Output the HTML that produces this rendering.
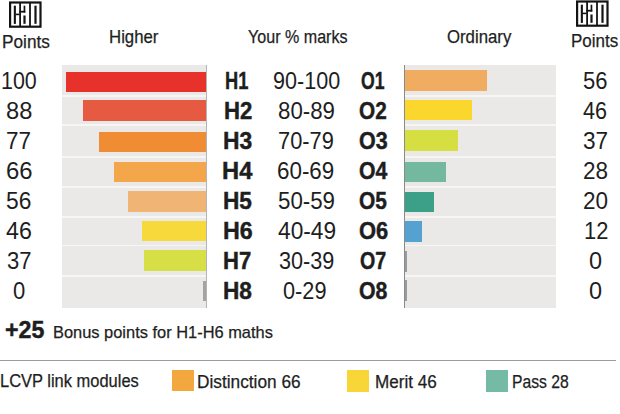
<!DOCTYPE html>
<html><head><meta charset="utf-8"><style>
html,body{margin:0;padding:0;background:#fff;width:620px;height:414px;overflow:hidden;position:relative}
.t{position:absolute;font-family:"Liberation Sans",sans-serif;line-height:1;white-space:nowrap;transform-origin:0 0;color:#1e1e1e;-webkit-text-stroke:0.25px #1e1e1e}
.r{position:absolute}
.logo{position:absolute}
</style></head><body>
<div class="r" style="left:62px;top:64.5px;width:145.00px;height:243.00px;background:#ebe9e8;"></div>
<div class="r" style="left:404px;top:64.5px;width:152.00px;height:243.00px;background:#ebe9e8;"></div>
<div class="r" style="left:62px;top:94.8px;width:145.00px;height:1.80px;background:#f7f6f5;"></div>
<div class="r" style="left:404px;top:94.8px;width:152.00px;height:1.80px;background:#f7f6f5;"></div>
<div class="r" style="left:62px;top:124.39999999999999px;width:145.00px;height:1.80px;background:#f7f6f5;"></div>
<div class="r" style="left:404px;top:124.39999999999999px;width:152.00px;height:1.80px;background:#f7f6f5;"></div>
<div class="r" style="left:62px;top:156.1px;width:145.00px;height:1.80px;background:#f7f6f5;"></div>
<div class="r" style="left:404px;top:156.1px;width:152.00px;height:1.80px;background:#f7f6f5;"></div>
<div class="r" style="left:62px;top:186.1px;width:145.00px;height:1.80px;background:#f7f6f5;"></div>
<div class="r" style="left:404px;top:186.1px;width:152.00px;height:1.80px;background:#f7f6f5;"></div>
<div class="r" style="left:62px;top:216.0px;width:145.00px;height:1.80px;background:#f7f6f5;"></div>
<div class="r" style="left:404px;top:216.0px;width:152.00px;height:1.80px;background:#f7f6f5;"></div>
<div class="r" style="left:62px;top:244.7px;width:145.00px;height:1.80px;background:#f7f6f5;"></div>
<div class="r" style="left:404px;top:244.7px;width:152.00px;height:1.80px;background:#f7f6f5;"></div>
<div class="r" style="left:62px;top:274.90000000000003px;width:145.00px;height:1.80px;background:#f7f6f5;"></div>
<div class="r" style="left:404px;top:274.90000000000003px;width:152.00px;height:1.80px;background:#f7f6f5;"></div>
<div class="r" style="left:65.6px;top:71.6px;width:140.90px;height:20.70px;background:#e6322a;"></div>
<div class="r" style="left:82.9px;top:100px;width:123.60px;height:21.30px;background:#e65a42;"></div>
<div class="r" style="left:98.7px;top:131.6px;width:107.80px;height:20.80px;background:#f08d34;"></div>
<div class="r" style="left:113.9px;top:161.6px;width:92.60px;height:20.80px;background:#f4a64a;"></div>
<div class="r" style="left:127.8px;top:191.1px;width:78.70px;height:20.80px;background:#f0b574;"></div>
<div class="r" style="left:141.7px;top:221.1px;width:64.80px;height:20.30px;background:#f8d93c;"></div>
<div class="r" style="left:143.5px;top:250.1px;width:63.00px;height:21.30px;background:#d6e046;"></div>
<div class="r" style="left:203.3px;top:280.8px;width:3.20px;height:20.10px;background:#a3a3a3;"></div>
<div class="r" style="left:205.8px;top:64.5px;width:1.00px;height:243.00px;background:#b4b4b4;"></div>
<div class="r" style="left:404.5px;top:70.2px;width:82.00px;height:21.20px;background:#f0ac60;"></div>
<div class="r" style="left:404.5px;top:99.7px;width:67.20px;height:20.70px;background:#fbd72e;"></div>
<div class="r" style="left:404.5px;top:130px;width:53.80px;height:21.40px;background:#d5df42;"></div>
<div class="r" style="left:404.5px;top:161.6px;width:41.00px;height:20.90px;background:#74b8a0;"></div>
<div class="r" style="left:404.5px;top:191.6px;width:29.30px;height:20.30px;background:#3ba087;"></div>
<div class="r" style="left:404.5px;top:221.1px;width:17.40px;height:20.50px;background:#55a2d0;"></div>
<div class="r" style="left:404.5px;top:250.6px;width:2.70px;height:21.00px;background:#9b9b9b;"></div>
<div class="r" style="left:404.5px;top:280.3px;width:2.70px;height:20.70px;background:#9b9b9b;"></div>
<div class="r" style="left:403.6px;top:64.5px;width:1.30px;height:243.00px;background:#8a8a8a;"></div>
<div class="r" style="left:0px;top:360px;width:616.00px;height:1.00px;background:#9c9c9c;"></div>
<div class="r" style="left:172.3px;top:370px;width:21.60px;height:21.00px;background:#f2a83e;"></div>
<div class="r" style="left:347.2px;top:370px;width:21.60px;height:21.60px;background:#f9d637;"></div>
<div class="r" style="left:486.4px;top:370px;width:21.80px;height:21.60px;background:#75baa5;"></div>
<svg class="logo" style="left:9.4px;top:0.7px" width="33" height="28" viewBox="0 0 33 28">
<rect x="1.1" y="1.5" width="30.4" height="24.2" fill="none" stroke="#141414" stroke-width="2.2"/>
<rect x="4.8" y="4.7" width="2.1" height="18.2" fill="#141414"/>
<rect x="6.5" y="12.6" width="4.2" height="1.6" fill="#141414"/>
<rect x="10.2" y="1" width="1.8" height="25" fill="#141414"/>
<rect x="10.2" y="9.8" width="6.1" height="1.8" fill="#141414"/>
<rect x="14.6" y="4.7" width="1.7" height="6.9" fill="#141414"/>
<rect x="14.4" y="14.5" width="2.2" height="8.3" fill="#141414"/>
<rect x="20.1" y="1" width="1.8" height="25" fill="#141414"/>
<rect x="25.4" y="4.7" width="2.2" height="18.1" fill="#141414"/>
</svg>
<svg class="logo" style="left:576.2px;top:0.2px" width="33" height="28" viewBox="0 0 33 28">
<rect x="1.1" y="1.5" width="30.4" height="24.2" fill="none" stroke="#141414" stroke-width="2.2"/>
<rect x="4.8" y="4.7" width="2.1" height="18.2" fill="#141414"/>
<rect x="6.5" y="12.6" width="4.2" height="1.6" fill="#141414"/>
<rect x="10.2" y="1" width="1.8" height="25" fill="#141414"/>
<rect x="10.2" y="9.8" width="6.1" height="1.8" fill="#141414"/>
<rect x="14.6" y="4.7" width="1.7" height="6.9" fill="#141414"/>
<rect x="14.4" y="14.5" width="2.2" height="8.3" fill="#141414"/>
<rect x="20.1" y="1" width="1.8" height="25" fill="#141414"/>
<rect x="25.4" y="4.7" width="2.2" height="18.1" fill="#141414"/>
</svg>
<div class="t" style="left:1.52px;top:32.80px;font-size:18.5px;transform:scaleX(0.9315);">Points</div>
<div class="t" style="left:108.86px;top:28.10px;font-size:18.5px;transform:scaleX(0.9076);">Higher</div>
<div class="t" style="left:248.38px;top:27.90px;font-size:18.5px;transform:scaleX(0.8693);">Your % marks</div>
<div class="t" style="left:447.33px;top:27.90px;font-size:18.5px;transform:scaleX(0.9060);">Ordinary</div>
<div class="t" style="left:570.54px;top:32.30px;font-size:18.5px;transform:scaleX(0.9173);">Points</div>
<div class="t" style="left:0.50px;top:68.60px;font-size:24.5px;transform:scaleX(0.8752); -webkit-text-stroke:0;">100</div>
<div class="t" style="left:582.82px;top:68.60px;font-size:24.5px;transform:scaleX(0.8981); -webkit-text-stroke:0;">56</div>
<div class="t" style="left:225.40px;top:68.60px;font-size:24.5px;transform:scaleX(0.7464); font-weight:bold;-webkit-text-stroke:0.45px #1e1e1e;">H1</div>
<div class="t" style="left:272.54px;top:68.60px;font-size:24.5px;transform:scaleX(0.8801); -webkit-text-stroke:0;">90-100</div>
<div class="t" style="left:360.89px;top:68.60px;font-size:24.5px;transform:scaleX(0.7211); font-weight:bold;-webkit-text-stroke:0.45px #1e1e1e;">O1</div>
<div class="t" style="left:5.85px;top:98.60px;font-size:24.5px;transform:scaleX(0.9651); -webkit-text-stroke:0;">88</div>
<div class="t" style="left:583.27px;top:98.60px;font-size:24.5px;transform:scaleX(0.8811); -webkit-text-stroke:0;">46</div>
<div class="t" style="left:223.67px;top:98.60px;font-size:24.5px;transform:scaleX(0.9046); font-weight:bold;-webkit-text-stroke:0.45px #1e1e1e;">H2</div>
<div class="t" style="left:277.91px;top:98.60px;font-size:24.5px;transform:scaleX(0.9083); -webkit-text-stroke:0;">80-89</div>
<div class="t" style="left:359.27px;top:98.60px;font-size:24.5px;transform:scaleX(0.8469); font-weight:bold;-webkit-text-stroke:0.45px #1e1e1e;">O2</div>
<div class="t" style="left:6.48px;top:128.60px;font-size:24.5px;transform:scaleX(0.9158); -webkit-text-stroke:0;">77</div>
<div class="t" style="left:583.22px;top:128.60px;font-size:24.5px;transform:scaleX(0.9218); -webkit-text-stroke:0;">37</div>
<div class="t" style="left:223.03px;top:128.60px;font-size:24.5px;transform:scaleX(0.9322); font-weight:bold;-webkit-text-stroke:0.45px #1e1e1e;">H3</div>
<div class="t" style="left:278.41px;top:128.60px;font-size:24.5px;transform:scaleX(0.8905); -webkit-text-stroke:0;">70-79</div>
<div class="t" style="left:359.14px;top:128.60px;font-size:24.5px;transform:scaleX(0.8761); font-weight:bold;-webkit-text-stroke:0.45px #1e1e1e;">O3</div>
<div class="t" style="left:5.61px;top:158.60px;font-size:24.5px;transform:scaleX(0.9745); -webkit-text-stroke:0;">66</div>
<div class="t" style="left:582.77px;top:158.60px;font-size:24.5px;transform:scaleX(0.9188); -webkit-text-stroke:0;">28</div>
<div class="t" style="left:222.08px;top:158.60px;font-size:24.5px;transform:scaleX(0.9685); font-weight:bold;-webkit-text-stroke:0.45px #1e1e1e;">H4</div>
<div class="t" style="left:277.28px;top:158.60px;font-size:24.5px;transform:scaleX(0.9137); -webkit-text-stroke:0;">60-69</div>
<div class="t" style="left:359.15px;top:158.60px;font-size:24.5px;transform:scaleX(0.8649); font-weight:bold;-webkit-text-stroke:0.45px #1e1e1e;">O4</div>
<div class="t" style="left:5.89px;top:188.60px;font-size:24.5px;transform:scaleX(0.9297); -webkit-text-stroke:0;">56</div>
<div class="t" style="left:582.77px;top:188.60px;font-size:24.5px;transform:scaleX(0.9188); -webkit-text-stroke:0;">20</div>
<div class="t" style="left:223.04px;top:188.60px;font-size:24.5px;transform:scaleX(0.9244); font-weight:bold;-webkit-text-stroke:0.45px #1e1e1e;">H5</div>
<div class="t" style="left:277.51px;top:188.60px;font-size:24.5px;transform:scaleX(0.9100); -webkit-text-stroke:0;">50-59</div>
<div class="t" style="left:359.16px;top:188.60px;font-size:24.5px;transform:scaleX(0.8531); font-weight:bold;-webkit-text-stroke:0.45px #1e1e1e;">O5</div>
<div class="t" style="left:6.34px;top:218.60px;font-size:24.5px;transform:scaleX(0.9468); -webkit-text-stroke:0;">46</div>
<div class="t" style="left:583.67px;top:218.60px;font-size:24.5px;transform:scaleX(0.8932); -webkit-text-stroke:0;">12</div>
<div class="t" style="left:223.00px;top:218.60px;font-size:24.5px;transform:scaleX(0.9495); font-weight:bold;-webkit-text-stroke:0.45px #1e1e1e;">H6</div>
<div class="t" style="left:277.65px;top:218.60px;font-size:24.5px;transform:scaleX(0.9272); -webkit-text-stroke:0;">40-49</div>
<div class="t" style="left:358.52px;top:218.60px;font-size:24.5px;transform:scaleX(0.8956); font-weight:bold;-webkit-text-stroke:0.45px #1e1e1e;">O6</div>
<div class="t" style="left:6.94px;top:248.60px;font-size:24.5px;transform:scaleX(0.8981); -webkit-text-stroke:0;">37</div>
<div class="t" style="left:589.10px;top:248.60px;font-size:24.5px;transform:scaleX(0.9579); -webkit-text-stroke:0;">0</div>
<div class="t" style="left:223.08px;top:248.60px;font-size:24.5px;transform:scaleX(0.9011); font-weight:bold;-webkit-text-stroke:0.45px #1e1e1e;">H7</div>
<div class="t" style="left:278.85px;top:248.60px;font-size:24.5px;transform:scaleX(0.8833); -webkit-text-stroke:0;">30-39</div>
<div class="t" style="left:360.01px;top:248.60px;font-size:24.5px;transform:scaleX(0.8015); font-weight:bold;-webkit-text-stroke:0.45px #1e1e1e;">O7</div>
<div class="t" style="left:12.54px;top:278.60px;font-size:24.5px;transform:scaleX(0.8996); -webkit-text-stroke:0;">0</div>
<div class="t" style="left:589.10px;top:278.60px;font-size:24.5px;transform:scaleX(0.9579); -webkit-text-stroke:0;">0</div>
<div class="t" style="left:223.04px;top:278.60px;font-size:24.5px;transform:scaleX(0.9244); font-weight:bold;-webkit-text-stroke:0.45px #1e1e1e;">H8</div>
<div class="t" style="left:282.65px;top:278.60px;font-size:24.5px;transform:scaleX(0.8862); -webkit-text-stroke:0;">0-29</div>
<div class="t" style="left:359.15px;top:278.60px;font-size:24.5px;transform:scaleX(0.8692); font-weight:bold;-webkit-text-stroke:0.45px #1e1e1e;">O8</div>
<div class="t" style="left:5.17px;top:317.70px;font-size:23.8px;transform:scaleX(0.9743); font-weight:bold;-webkit-text-stroke:0.45px #1e1e1e;">+25</div>
<div class="t" style="left:53.49px;top:324.20px;font-size:17px;transform:scaleX(0.9657);">Bonus points for H1-H6 maths</div>
<div class="t" style="left:0.08px;top:373.20px;font-size:17.5px;transform:scaleX(0.9409);">LCVP link modules</div>
<div class="t" style="left:196.82px;top:373.80px;font-size:17.5px;transform:scaleX(0.9862);">Distinction 66</div>
<div class="t" style="left:374.73px;top:374.20px;font-size:17.5px;transform:scaleX(0.9774);">Merit 46</div>
<div class="t" style="left:512.34px;top:374.20px;font-size:17.5px;transform:scaleX(0.8971);">Pass 28</div>
</body></html>
